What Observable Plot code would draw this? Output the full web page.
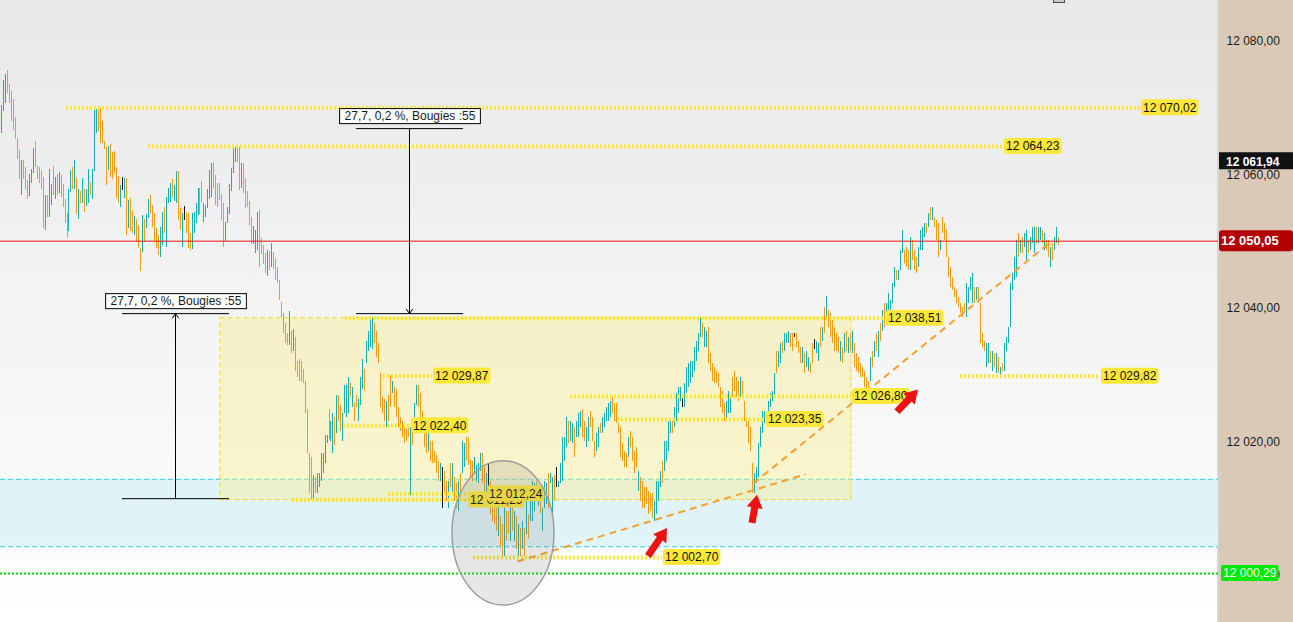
<!DOCTYPE html>
<html><head><meta charset="utf-8">
<script src="https://cdn.jsdelivr.net/npm/d3@7"></script>
<script src="https://cdn.jsdelivr.net/npm/@observablehq/plot@0.6"></script>
<style>
html,body{margin:0;padding:0;background:#fff;}
#chart svg{display:block;}
</style></head><body><div id="chart"></div>
<script>
// ---------- DATA ----------
const hi = [
12070.4,12074.1,12075.0,12075.6,12073.5,12072.5,12071.3,12068.6,12065.4,12063.6,
12062.1,12062.1,12061.1,12059.1,12060.0,12060.8,12063.9,12065.0,12061.2,12061.1,
12060.6,12059.6,12056.9,12056.9,12060.8,12058.5,12061.2,12059.6,12060.0,12060.3,
12059.9,12058.5,12056.3,12054.2,12057.8,12060.6,12061.1,12062.1,12059.4,12057.8,
12057.5,12059.4,12057.8,12057.8,12060.8,12058.8,12060.8,12069.6,12069.8,12070.0,
12069.9,12068.0,12065.0,12064.1,12064.2,12064.5,12063.3,12063.5,12061.1,12059.7,
12058.4,12059.6,12059.4,12059.4,12056.1,12056.4,12054.5,12053.7,12053.3,12052.4,
12048.9,12053.9,12053.3,12054.0,12056.3,12056.9,12055.4,12054.2,12051.9,
12050.9,12052.1,12054.3,12055.1,12056.6,12057.9,12058.7,12059.3,12058.4,12060.5,
12060.5,12054.9,12054.2,12055.2,12054.3,12054.2,12051.2,12054.2,12054.3,12055.7,
12057.9,12057.9,12059.0,12055.7,12055.4,12057.8,12060.6,12061.7,12061.8,
12059.9,12058.7,12058.7,12057.0,12055.7,12052.8,12055.1,12058.5,12060.9,12063.9,
12064.0,12064.2,12064.0,12061.7,12061.7,12059.4,12057.5,12056.0,12053.6,12052.2,
12051.6,12054.3,12054.6,12050.4,12049.4,12048.2,12048.6,12048.5,12049.7,12048.3,
12047.4,12046.1,
12044.1,12040.8,12039.2,12037.7,12036.2,12039.5,12036.6,12036.8,12035.6,12032.1,
12032.4,12032.1,12030.9,12029.1,12024.8,12018.2,12017.6,12014.9,12014.6,12015.2,
12015.3,12018.2,12018.3,12020.9,12021.0,12024.8,12023.1,12024.2,12023.6,12026.9,
12026.9,12025.4,12024.3,12028.4,12028.5,12029.7,12028.8,12028.1,12025.8,12026.9,
12026.4,12029.6,12032.4,12030.9,12035.1,12036.6,12038.4,12038.5,12037.7,12036.6,
12034.8,12030.3,12026.6,12026.4,12026.1,12026.9,12029.9,12029.1,12028.1,
12027.9,12025.1,12023.6,12023.1,12022.1,12021.9,12022.1,12022.1,12022.1,12025.8,
12028.4,12028.4,12027.2,12024.6,12022.1,12021.2,12022.1,12020.1,12020.1,12018.6,
12017.9,12017.1,12016.8,12016.1,12015.6,12014.1,12014.1,12016.8,12016.8,12014.6,
12013.7,12014.1,12015.2,12020.1,12019.8,12020.6,12020.6,12017.4,12017.1,12017.6,
12016.4,12016.8,12018.2,12018.2,12016.1,12015.2,12016.7,
12014.1,12011.6,12012.6,12011.1,12010.4,12008.9,12007.7,12010.1,12009.6,12009.6,
12011.1,12010.4,12009.6,12008.9,12007.7,12007.1,12008.1,12007.1,12011.1,12009.2,
12012.6,12014.1,12013.8,12014.1,12013.4,12012.6,12010.1,12014.1,12013.7,12015.2,
12015.2,12014.6,12014.9,12016.1,
12014.1,12016.7,12020.6,12020.6,12023.6,12023.1,12023.1,12022.7,12022.1,12023.1,
12024.2,12024.6,12024.9,12023.1,12022.1,12023.6,12024.6,12023.6,12020.1,12021.2,
12022.1,12022.7,12023.6,12024.2,12025.1,12025.7,12026.1,12026.6,12025.7,12025.7,
12022.7,12022.1,12019.7,12018.6,12018.2,12020.6,12021.6,12020.6,12018.6,12019.1,
12015.6,12014.6,12014.1,12013.1,12013.1,12012.6,12012.2,12012.2,12011.1,12014.1,
12014.1,12015.6,12017.1,12020.1,12020.1,12023.1,12023.1,12023.1,12025.1,12027.2,
12028.1,12028.1,12026.9,12028.7,12031.1,12031.7,12032.1,12032.1,12034.1,12035.1,
12036.2,12038.5,12037.7,12037.1,12036.6,12037.1,12033.2,12031.7,12031.1,12030.6,
12030.2,12028.1,12027.6,12025.7,12026.1,12027.6,12026.6,12029.6,12030.6,12029.6,
12029.1,12029.6,12029.1,12026.1,12023.6,12023.1,12022.1,12016.7,12015.2,12016.1,
12019.7,12022.1,12024.6,12024.6,12024.2,12026.1,12027.2,12027.6,12030.2,12033.6,
12033.6,12034.7,12035.1,12036.2,12036.2,12036.6,12036.3,12036.3,12036.3,12036.2,
12035.1,12034.1,12034.1,12033.2,12033.6,12032.6,12031.7,12034.7,12035.4,12035.1,
12034.7,12037.1,12037.1,12040.1,12041.7,12039.6,12039.2,12038.1,12037.1,12036.2,
12035.6,12035.1,12034.1,12036.2,12036.6,12035.6,12036.2,12036.6,12034.7,12033.2,
12032.6,12031.7,12031.1,12030.6,12029.6,12029.1,
12032.6,12033.6,12035.1,12036.2,12036.6,12037.7,12039.6,12040.7,12040.7,12042.2,
12041.1,12043.7,12046.1,12045.6,12045.6,12048.6,12051.6,12048.6,12049.1,12048.6,
12050.6,12050.1,12048.6,12047.6,12049.1,12051.6,12052.1,12052.7,12052.7,12054.2,
12055.1,12055.1,12053.6,12053.1,12052.7,12050.1,12053.6,12052.7,12051.6,12047.6,
12046.1,12044.6,12043.1,12042.6,12041.6,12040.7,12040.1,12040.7,12043.7,12043.1,
12044.6,12045.2,12043.1,12043.1,12043.1,12040.7,12036.2,12035.1,12034.7,12034.7,
12033.6,12033.6,12033.2,12033.2,12032.6,12031.1,12031.7,12034.7,12035.6,12037.1,
12043.7,12045.2,12047.6,12050.1,12051.2,12050.1,12050.6,12051.2,12051.6,12050.1,
12050.6,12052.1,12052.1,12052.1,12052.1,12052.1,12051.6,12051.2,12050.1,12050.1,
12049.1,12049.7,12050.6,12052.1,12050.6
];
const lo = [
12066.2,12069.5,12070.7,12072.2,12070.7,12068.0,12066.6,12065.3,12062.3,12059.3,
12056.9,12059.3,12057.8,12056.3,12056.7,12058.7,12060.2,12061.1,12059.3,12058.7,
12057.8,12051.9,12051.6,12053.6,12053.6,12055.4,12056.9,12056.3,12056.9,12057.2,
12056.6,12055.1,12052.7,12050.4,12051.5,12057.3,12057.8,12057.8,12054.0,12053.3,
12055.7,12055.7,12054.3,12055.2,12055.7,12056.9,12056.3,12060.5,12066.2,12066.5,
12064.7,12064.7,12063.8,12058.4,12060.6,12059.6,12059.3,12060.2,12056.4,12055.7,
12055.1,12057.6,12056.4,12050.9,12051.9,12051.5,12051.2,12050.9,12049.8,12048.9,
12045.5,12048.3,12049.8,12051.9,12053.4,12054.2,12052.1,12049.8,12048.9,
12047.9,12047.6,12049.4,12051.2,12049.1,12055.7,12055.8,12056.6,12056.0,12055.7,
12053.1,12051.6,12049.1,12053.1,12051.2,12048.9,12048.6,12048.8,12051.2,12052.7,
12053.9,12054.0,12055.7,12052.8,12053.6,12054.9,12056.3,12056.6,12057.9,
12055.4,12055.1,12056.1,12053.1,12049.1,12050.0,12052.7,12054.0,12057.5,12060.2,
12061.8,12061.8,12057.6,12057.9,12057.2,12054.9,12055.1,12052.4,12049.5,12049.5,
12048.2,12048.6,12046.1,12048.0,12046.5,12045.2,12044.7,12045.6,12046.1,12045.8,
12044.1,12043.7,
12041.1,12038.6,12036.2,12034.7,12034.4,12034.4,12033.3,12033.6,12030.6,12029.6,
12029.1,12029.1,12028.8,12024.3,12018.2,12012.2,12011.3,12011.4,12012.2,12012.2,
12013.1,12014.1,12015.2,12016.8,12019.7,12020.4,12020.1,12018.2,12019.4,12021.2,
12023.1,12021.6,12020.1,12024.3,12023.6,12024.3,12026.6,12025.1,12023.1,12025.1,
12023.1,12025.4,12027.9,12027.6,12031.7,12033.6,12034.1,12033.9,12034.7,12032.6,
12031.7,12025.1,12024.2,12023.1,12022.1,12023.1,12025.1,12027.2,12025.1,
12023.6,12022.1,12021.6,12020.6,12019.7,12020.1,12020.6,12012.0,12019.4,12022.1,
12025.4,12025.1,12023.1,12022.1,12019.1,12018.2,12018.6,12017.1,12016.8,12016.7,
12015.2,12014.1,12014.1,12010.1,12012.2,12011.1,12010.1,12013.1,12012.2,12011.1,
12010.1,12009.6,12011.6,12015.2,12016.1,12017.1,12016.4,12014.4,12014.1,12015.2,
12014.1,12013.7,12015.6,12013.7,12012.2,12011.1,12013.1,
12009.2,12008.1,12007.7,12006.6,12005.9,12004.4,12002.7,12002.8,12005.1,12006.2,
12005.1,12006.6,12005.1,12003.9,12002.9,12002.8,12003.9,12002.8,12006.2,12005.6,
12008.1,12008.1,12009.6,12011.1,12010.4,12009.3,12006.6,12010.1,12010.7,12010.1,
12013.7,12008.9,12011.1,12013.1,
12013.1,12013.7,12014.1,12017.1,12019.1,12019.7,12020.1,12019.7,12017.6,12020.6,
12020.6,12022.1,12020.6,12020.1,12019.1,12020.1,12022.1,12020.1,12017.6,12018.6,
12019.1,12021.2,12021.2,12022.1,12023.1,12023.1,12023.6,12024.2,12023.1,12022.7,
12021.2,12017.6,12017.1,12016.1,12016.1,12017.6,12019.1,12017.1,12015.2,12016.1,
12012.6,12011.1,12010.1,12010.1,12010.7,12009.2,12009.6,12008.6,12008.1,12009.2,
12011.1,12013.1,12013.7,12015.6,12017.1,12018.6,12021.2,12021.2,12022.1,12023.1,
12024.2,12026.1,12025.1,12025.1,12027.2,12028.1,12028.7,12029.6,12030.6,12032.1,
12033.6,12035.6,12035.6,12034.1,12034.1,12031.7,12030.6,12029.1,12028.7,12028.7,
12028.1,12025.1,12024.2,12023.1,12023.1,12024.2,12024.2,12026.6,12027.6,12026.6,
12026.1,12026.6,12026.6,12023.1,12022.1,12019.7,12018.6,12012.2,12012.2,12013.7,
12014.6,12019.1,12021.2,12022.7,12022.7,12024.6,12025.1,12026.1,12026.6,12030.2,
12031.1,12031.7,12033.2,12033.6,12034.7,12034.7,12034.1,12033.6,12035.7,12034.1,
12033.2,12031.7,12031.7,12030.2,12031.1,12030.6,12030.2,12031.7,12033.9,12033.2,
12032.1,12034.1,12035.1,12036.2,12038.1,12037.1,12035.6,12034.7,12033.6,12033.6,
12033.2,12032.1,12031.7,12033.2,12033.6,12033.2,12033.6,12033.2,12031.1,12030.6,
12030.2,12029.6,12029.6,12028.1,12027.5,12026.8,
12029.1,12031.1,12032.6,12033.6,12032.6,12035.1,12036.6,12037.1,12037.7,12038.6,
12039.2,12040.7,12043.1,12044.1,12044.1,12045.6,12048.2,12046.7,12046.1,12045.6,
12045.6,12047.1,12045.6,12045.2,12046.1,12048.6,12048.6,12050.6,12051.2,12052.1,
12053.1,12053.1,12052.1,12050.1,12047.6,12048.6,12051.2,12050.1,12047.6,12044.6,
12043.1,12042.6,12041.6,12040.7,12040.1,12039.2,12038.6,12039.2,12038.6,12040.7,
12042.6,12040.7,12040.7,12041.1,12040.7,12034.7,12034.1,12033.6,12031.1,12031.7,
12031.7,12030.6,12031.1,12030.2,12030.2,12029.8,12030.6,12030.6,12033.6,12034.7,
12037.1,12042.6,12044.1,12044.6,12047.6,12048.2,12048.2,12049.1,12047.1,12048.2,
12048.6,12049.7,12048.2,12049.7,12049.7,12050.1,12049.7,12048.6,12048.6,12047.6,
12046.1,12047.1,12048.6,12049.7,12049.4
];
// u = up bar, d = down bar, n = doji (black)
const dir = (
"uuuddddddd uddduuuddd dduduududu dddduududu duduuduuud dddduddddd unududdudd duduudddd duuduuuduu ddunddduuu " +
"udduuuuud ddddduuuuu uddudddddu uuddddudud dddddddudu dddddddddu duuuuuuduu dudduuuudu dduuuduuuu ddddddudd " +
"uddddddddu duudddddud ddddunddud udduduuddd duuuuddund dddudduddu dududududu uududuuudu udnuuuuudu uduuudduud " +
"dduuduuuuu ddddddddud dddudddddd duuuuduuuu duuuunuuuu uuuuuduudd ddddddduuu dddduddddd duuuuuuduu uuduuduuud " +
"dnddduduud dnuudududd ddddududud uddddddddu dudududuuu uuduuudddu ddduuuudud uddduddddd ddddddduuu ududddduud " +
"udududuuuu uuududuudu uuduududdu duud").replace(/\s+/g, "");

// price levels (value, first bar index, last bar index)
const levelValues = [12070.02, 12064.23, 12038.51, 12029.87, 12022.40, 12011.29, 12012.24, 12002.70, 12026.80, 12023.35, 12029.82];
const levelFrom   = [32.7, 74.1, 173.3, 192.5, 172.3, 146.6, 195.0, 237.5, 286, 309.5, 481];
const levelTo     = [571, 502.5, 443.5, 217, 206, 234.5, 244, 332, 426.5, 383.5, 551];

const lastPrice = 12050.05;
const refHigh = 12061.94;
const supportLine = 12000.29;
const axisTicks = [12000, 12020, 12040, 12060, 12080];

// consolidation zone (yellow) and support band (cyan)
const zoneFrom = 110.3, zoneTo = 426.5, zoneLow = 12011.29, zoneHigh = 12038.51;
const bandLow = 12004.3, bandHigh = 12014.4;

// trend lines (bar index, price)
const trendFromX = [259.5, 377.5], trendFromY = [12002.1, 12013.8];
const trendToX = [403.5, 525],     trendToY = [12015.15, 12049.65];

// measurements
const measTop = [12066.9, 12039.2], measBottom = [12039.2, 12011.5];
const measFrom = [178.9, 61.0], measTo = [232.5, 114.9], measAt = [205.5, 87.7];
const measArrowStart = [12066.9, 12011.5], measArrowEnd = [12039.2, 12039.2];
const measLabel = ["27,7, 0,2 %, Bougies :55", "27,7, 0,2 %, Bougies :55"];

// highlight ellipse (centre bar index, centre price, half width in bars, half height in price)
const ellipseAt = [252.5, 12006.3, 25.5, 10.8];

// red arrows
const arrowFromX = [325, 377, 449.5],   arrowFromY = [12002.85, 12007.8, 12024.45];
const arrowToX = [334.5, 379.5, 460],   arrowToY = [12007.05, 12012.0, 12027.75];

// ---------- HELPERS ----------
const N = hi.length;
const leftStep = 393 / 198;                    // bar spacing (px) on the older part of the session
const xDomain = [-1 / leftStep, 198, 610];      // piecewise time axis (bar index)
const xRange = [0, 394, 1218];
const FAM = '"Liberation Sans", Arial, sans-serif';
const TEAL = "#16b0b4", ORANGE = "#f29c15", DOJI = "#1a1a1a";
const fmt = v => { const [a, b] = v.toFixed(2).split("."); return a.slice(0, a.length - 3) + " " + a.slice(-3) + "," + b; };
const cctx = document.createElement("canvas").getContext("2d");
const textWidth = (s, font) => { cctx.font = font; return cctx.measureText(s).width; };
const NS = "http://www.w3.org/2000/svg";
function el(tag, attrs, parent) {
  const e = document.createElementNS(NS, tag);
  for (const k in attrs) e.setAttribute(k, attrs[k]);
  if (parent) parent.appendChild(e);
  return e;
}
const textGroup = () => el("g", {"font-family": FAM, "font-size": 12, "text-anchor": "start"});

// ---------- CUSTOM RENDER MARKS ----------
function backgroundMark(index, scales, values, dim) {
  const g = el("g", {});
  const defs = el("defs", {}, g);
  const lg = el("linearGradient", {id: "bgfade", x1: 0, y1: 0, x2: 0, y2: 1}, defs);
  el("stop", {offset: "0", "stop-color": "#e8e8e8"}, lg);
  el("stop", {offset: "1", "stop-color": "#ffffff"}, lg);
  const right = dim.width - dim.marginRight;
  el("rect", {x: 0, y: 0, width: right, height: dim.height, fill: "url(#bgfade)"}, g);
  el("rect", {x: right - 1, y: 0, width: 2, height: dim.height, fill: "#d6d6d6"}, g);
  el("rect", {x: right + 1, y: 0, width: dim.marginRight - 1, height: dim.height, fill: "#dac9b6"}, g);
  return g;
}

function cornerBoxMark(index, {x}) {
  const g = el("g", {});
  const cx = x(N - 0.5);
  el("rect", {x: cx - 5.5, y: -1, width: 11, height: 3.5, fill: "#c9c9c9", stroke: "#4a4a4a", "stroke-width": 1}, g);
  return g;
}

function levelTagsMark(index, {x, y}) {
  const g = textGroup();
  levelValues.forEach((v, i) => {
    const s = fmt(v), w = textWidth(s, "12px " + FAM) + 4;
    const X = x(levelTo[i]) + 1, Y = y(v);
    el("rect", {x: X, y: Y - 8, width: w, height: 16, rx: 3, fill: "#fde83a"}, g);
    const t = el("text", {x: X + 2, y: Y, dy: "0.36em", fill: "#111"}, g);
    t.textContent = s;
  });
  return g;
}

function ellipseMark(index, {x, y}) {
  const [ci, cp, hw, hh] = ellipseAt;
  const cx = x(ci), cy = y(cp);
  const rx = x(ci + hw) - cx, ry = cy - y(cp + hh);
  const g = el("g", {});
  el("ellipse", {cx, cy, rx, ry, fill: "rgba(120,120,120,0.17)", stroke: "#9d9d9d", "stroke-width": 1.5}, g);
  return g;
}

function redArrowsMark(index, {x, y}) {
  const g = el("g", {});
  arrowFromX.forEach((_, i) => {
    const x0 = x(arrowFromX[i]), y0 = y(arrowFromY[i]), x1 = x(arrowToX[i]), y1 = y(arrowToY[i]);
    const dx = x1 - x0, dy = y1 - y0, L = Math.hypot(dx, dy), ux = dx / L, uy = dy / L, px = -uy, py = ux;
    const sh = 3.5, hd = 8, hl = 13;
    const bx = x1 - ux * hl, by = y1 - uy * hl;
    const pts = [[x0 + px * sh, y0 + py * sh], [bx + px * sh, by + py * sh], [bx + px * hd, by + py * hd], [x1, y1],
                 [bx - px * hd, by - py * hd], [bx - px * sh, by - py * sh], [x0 - px * sh, y0 - py * sh]];
    el("polygon", {points: pts.map(p => p.join(",")).join(" "), fill: "#ee1111"}, g);
  });
  return g;
}

function measureBoxesMark(index, {x, y}) {
  const g = textGroup();
  measLabel.forEach((s, i) => {
    const w = textWidth(s, "12px " + FAM) + 10;
    const cx = x(measAt[i]) + 1, cy = y(measTop[i]) - 12;
    el("rect", {x: cx - w / 2, y: cy - 7.5, width: w, height: 15, fill: "#ffffff", stroke: "#000", "stroke-width": 1}, g);
    const t = el("text", {x: cx, y: cy, dy: "0.36em", "text-anchor": "middle", fill: "#1a1a1a"}, g);
    t.textContent = s;
  });
  return g;
}

function axisTagsMark(index, {y}, values, dim) {
  const right = dim.width - dim.marginRight;
  const g = textGroup();
  let Y = y(refHigh);
  el("rect", {x: right + 1, y: Y - 9, width: dim.marginRight - 1, height: 17, fill: "#111111"}, g);
  let t = el("text", {x: right + 8, y: Y, dy: "0.36em", fill: "#fff", "font-weight": "bold"}, g);
  t.textContent = fmt(refHigh);
  Y = y(lastPrice);
  el("rect", {x: right + 1, y: Y - 10.5, width: dim.marginRight - 1, height: 21, rx: 3, fill: "#b30000"}, g);
  t = el("text", {x: right + 3, y: Y, dy: "0.36em", fill: "#fff", "font-weight": "bold", "font-size": 13}, g);
  t.textContent = fmt(lastPrice);
  Y = y(supportLine);
  const w = textWidth(fmt(supportLine), "12px " + FAM) + 4;
  el("rect", {x: right + 3, y: Y - 8, width: w, height: 16, rx: 2, fill: "#00ea00"}, g);
  t = el("text", {x: right + 5, y: Y, dy: "0.36em", fill: "#fff"}, g);
  t.textContent = fmt(supportLine);
  return g;
}

// ---------- PLOT ----------
const idx = d3.range(N);
const upIdx = idx.filter(i => dir[i] === "u");
const downIdx = idx.filter(i => dir[i] === "d");
const dojiIdx = idx.filter(i => dir[i] !== "u" && dir[i] !== "d");
const lvlIdx = d3.range(levelValues.length);
const measIdx = d3.range(measTop.length);
const barOpts = color => ({x: i => i, y1: i => lo[i], y2: i => hi[i], stroke: color, strokeWidth: 1, shapeRendering: "crispEdges"});

const chart = Plot.plot({
  width: 1293, height: 622,
  marginLeft: 0, marginRight: 75, marginTop: 0, marginBottom: 0,
  x: {type: "linear", domain: xDomain, range: xRange, axis: null, round: true},
  y: {domain: [11992.96, 12086.08]},
  style: {fontFamily: FAM, fontSize: "12px", background: "#ffffff", color: "#1a1a1a"},
  marks: [
    backgroundMark,
    Plot.rect([0], {x1: xDomain[0], x2: xDomain[xDomain.length - 1], y1: bandLow, y2: bandHigh, fill: "#d8f1f8", fillOpacity: 0.8}),
    Plot.ruleY([bandLow, bandHigh], {stroke: "#2bd0e2", strokeDasharray: "5,3", strokeWidth: 1}),
    Plot.rect([0], {x1: zoneFrom, x2: zoneTo, y1: zoneLow, y2: zoneHigh, fill: "#f8ed95", fillOpacity: 0.45,
      stroke: "#f3dc2c", strokeDasharray: "5,3", strokeWidth: 1}),
    Plot.ruleX(upIdx, barOpts(TEAL)),
    Plot.ruleX(downIdx, barOpts(ORANGE)),
    Plot.ruleX(dojiIdx, barOpts(DOJI)),
    Plot.ruleY(lvlIdx, {y: i => levelValues[i], x1: i => levelFrom[i], x2: i => levelTo[i],
      stroke: "#fde72e", strokeWidth: 4, strokeDasharray: "2,2"}),
    Plot.ruleY([lastPrice], {stroke: "#e81414", strokeWidth: 1}),
    Plot.ruleY([supportLine], {stroke: "#00dd00", strokeWidth: 2, strokeDasharray: "2,2"}),
    Plot.link(d3.range(trendFromX.length), {x1: i => trendFromX[i], y1: i => trendFromY[i],
      x2: i => trendToX[i], y2: i => trendToY[i], stroke: "#f3a12c", strokeWidth: 2, strokeDasharray: "7,5"}),
    Plot.ruleY(measIdx, {y: i => measTop[i], x1: i => measFrom[i], x2: i => measTo[i], stroke: "#000", strokeWidth: 1}),
    Plot.ruleY(measIdx, {y: i => measBottom[i], x1: i => measFrom[i], x2: i => measTo[i], stroke: "#000", strokeWidth: 1}),
    Plot.arrow(measIdx, {x1: i => measAt[i], x2: i => measAt[i], y1: i => measArrowStart[i], y2: i => measArrowEnd[i],
      stroke: "#000", strokeWidth: 1, headLength: 8, headAngle: 70}),
    levelTagsMark,
    ellipseMark,
    redArrowsMark,
    measureBoxesMark,
    cornerBoxMark,
    Plot.axisY({anchor: "right", ticks: axisTicks, tickSize: 0, tickPadding: 8, tickFormat: fmt, label: null, fill: "#1a1a1a"}),
    axisTagsMark
  ]
});
document.getElementById("chart").append(chart);
</script>
</body></html>
